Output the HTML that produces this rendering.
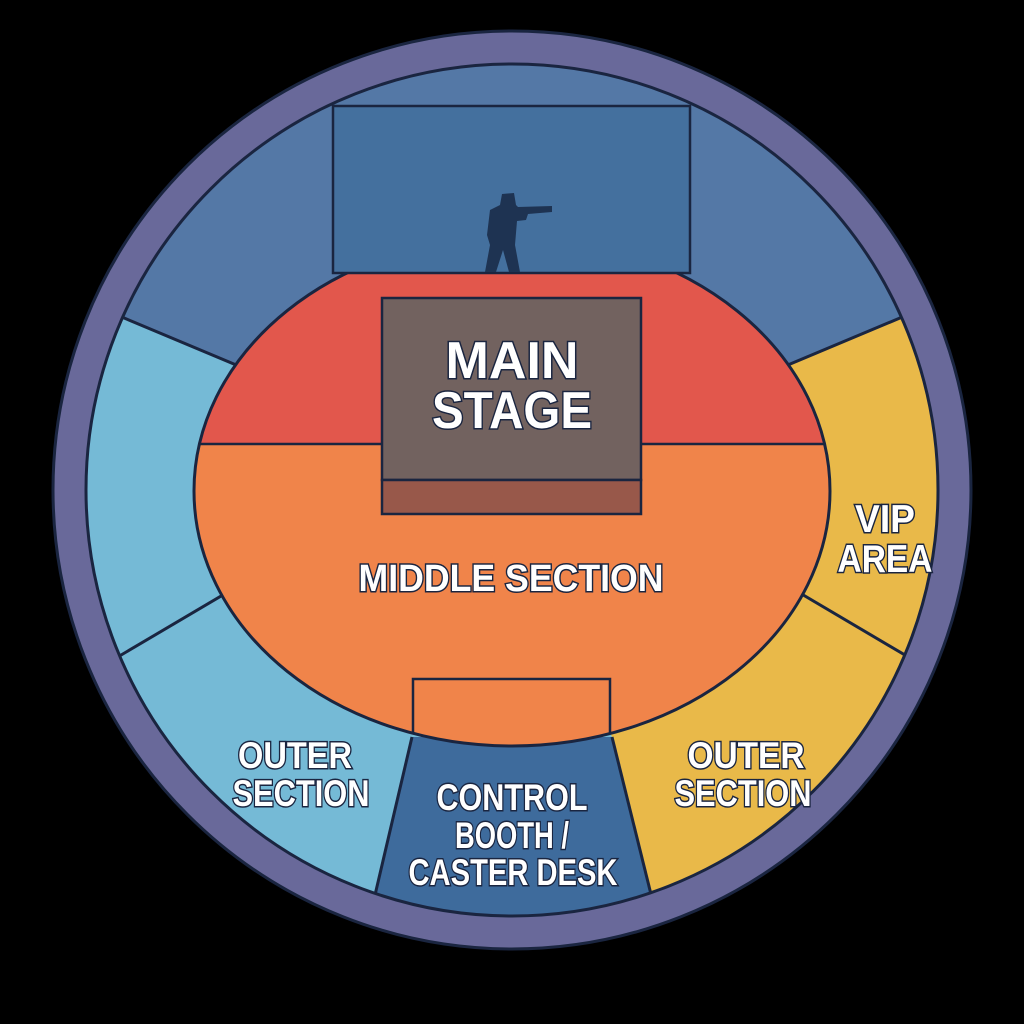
<!DOCTYPE html>
<html><head><meta charset="utf-8"><style>
html,body{margin:0;padding:0;background:#000;width:1024px;height:1024px;overflow:hidden;}
svg{display:block;position:absolute;left:0;top:0}
text{font-family:"Liberation Sans",sans-serif;font-weight:bold;fill:#fff;stroke:#1a2540;stroke-width:3;paint-order:stroke;text-anchor:middle;}
</style></head><body>
<svg width="1024" height="1024" viewBox="0 0 1024 1024">
<defs><clipPath id="ic"><circle cx="512" cy="490" r="426"/></clipPath>
<clipPath id="el"><ellipse cx="512" cy="491" rx="318" ry="255"/></clipPath></defs>
<circle cx="512" cy="490" r="459" fill="#69699a" stroke="#1a2540" stroke-width="3"/>
<g clip-path="url(#ic)">
<rect x="0" y="0" width="1024" height="1024" fill="#75bad6"/>
<polygon points="-100,224 260,375 512,490 764,375 1124,224 1124,-100 -100,-100" fill="#5478a6"/>
<polygon points="764,375 1124,224 1124,1100 702,1100 612,737 512,490" fill="#e9b949"/>
<polygon points="412,737 612,737 702,1100 327,1100" fill="#3e6b9c"/>
<g stroke="#1a2540" stroke-width="3" fill="none">
<line x1="260" y1="375" x2="-100" y2="224"/>
<line x1="764" y1="375" x2="1124" y2="224"/>
<line x1="260" y1="573" x2="50" y2="697"/>
<line x1="766" y1="573" x2="976" y2="697"/>
<line x1="412" y1="737" x2="327" y2="1100"/>
<line x1="612" y1="737" x2="702" y2="1100"/>
</g>
</g>
<circle cx="512" cy="490" r="426" fill="none" stroke="#1a2540" stroke-width="3"/>
<ellipse cx="512" cy="491" rx="318" ry="255" fill="#f0844a"/>
<g clip-path="url(#el)">
<rect x="150" y="200" width="720" height="244" fill="#e2574c"/>
<rect x="413" y="679" width="197" height="100" fill="#f0844a" stroke="#1a2540" stroke-width="2.5"/>
<line x1="150" y1="444" x2="870" y2="444" stroke="#1a2540" stroke-width="2.5"/>
</g>
<ellipse cx="512" cy="491" rx="318" ry="255" fill="none" stroke="#1a2540" stroke-width="3"/>
<rect x="333" y="106" width="357" height="167" fill="#44709e" stroke="#1a2540" stroke-width="2.5"/>
<path d="M502,194 L514,193 L516,205 L518,207 L552,206 L552,212 L528,214 L526,220 L517,221 L515,245 L520,272 L509,272 L503,250 L496,272 L485,272 L490,245 L487,235 L490,210 L500,205 Z" fill="#1e3352"/>
<rect x="382" y="298" width="259" height="182" fill="#72625f" stroke="#1a2540" stroke-width="2.5"/>
<rect x="382" y="480" width="259" height="34" fill="#98584a" stroke="#1a2540" stroke-width="2.5"/>
<text x="512" y="378" font-size="52" textLength="133" lengthAdjust="spacingAndGlyphs">MAIN</text>
<text x="512" y="428" font-size="52" textLength="160" lengthAdjust="spacingAndGlyphs">STAGE</text>
<text x="511" y="591" font-size="38" textLength="305" lengthAdjust="spacingAndGlyphs">MIDDLE SECTION</text>
<text x="885" y="532" font-size="39" textLength="60" lengthAdjust="spacingAndGlyphs">VIP</text>
<text x="885" y="572" font-size="39" textLength="95" lengthAdjust="spacingAndGlyphs">AREA</text>
<text x="295" y="768" font-size="37" textLength="114" lengthAdjust="spacingAndGlyphs">OUTER</text>
<text x="301" y="806" font-size="37" textLength="137" lengthAdjust="spacingAndGlyphs">SECTION</text>
<text x="746" y="768" font-size="37" textLength="117" lengthAdjust="spacingAndGlyphs">OUTER</text>
<text x="743" y="806" font-size="37" textLength="137" lengthAdjust="spacingAndGlyphs">SECTION</text>
<text x="512" y="810" font-size="37" textLength="151" lengthAdjust="spacingAndGlyphs">CONTROL</text>
<text x="512" y="848" font-size="37" textLength="114" lengthAdjust="spacingAndGlyphs">BOOTH /</text>
<text x="513" y="885" font-size="37" textLength="209" lengthAdjust="spacingAndGlyphs">CASTER DESK</text>
</svg>
</body></html>
